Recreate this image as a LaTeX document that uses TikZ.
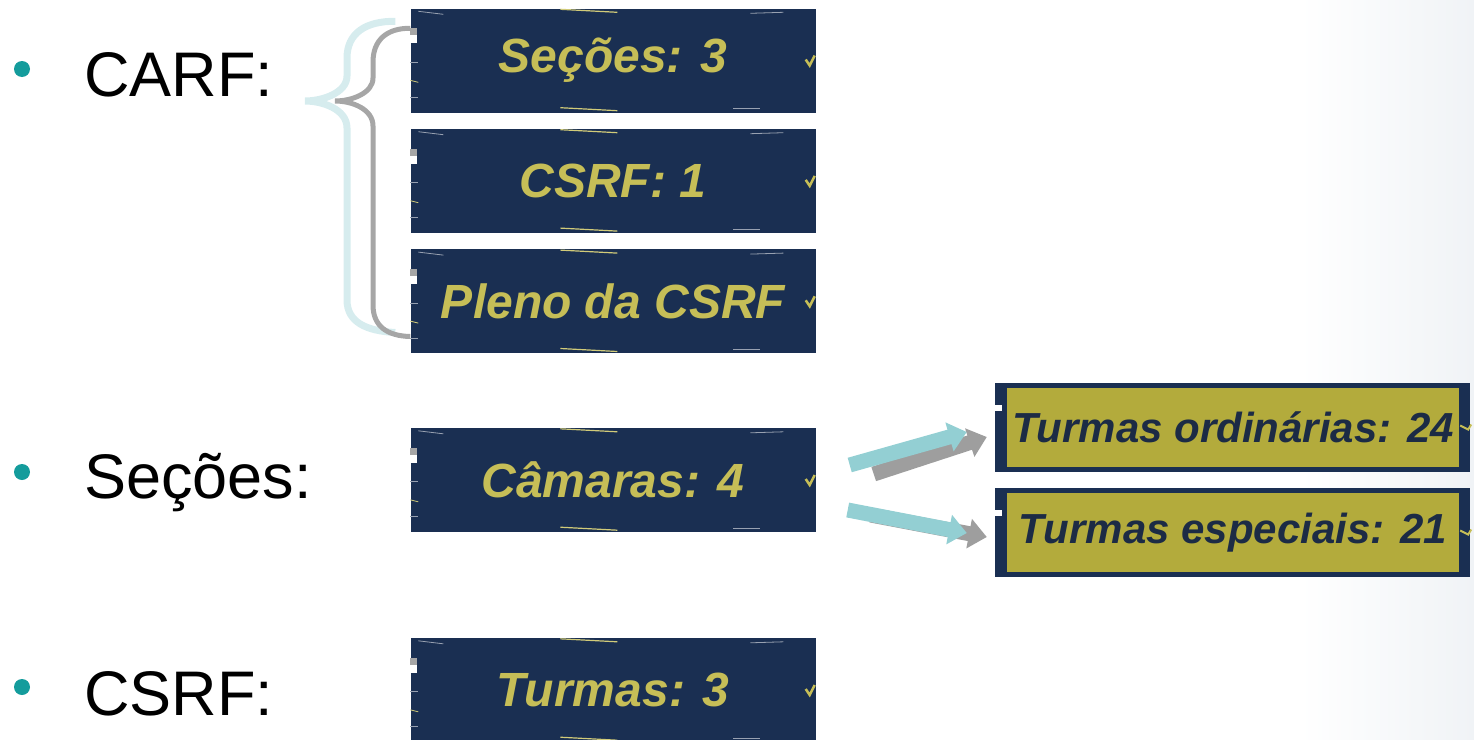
\documentclass[tikz,border=0pt]{standalone}
\usepackage{fontspec}
\setmainfont{Liberation Sans}
\usepackage{tikz}
\usetikzlibrary{arrows.meta, backgrounds, positioning}
\usepackage{xcolor}
\definecolor{boxnavy}{HTML}{1A2F52}
\definecolor{boxgold}{HTML}{C6BE57}
\definecolor{boxolive}{HTML}{B3AB3C}
\definecolor{olivetext}{HTML}{1C2B45}
\definecolor{dotteal}{HTML}{149C9C}
\definecolor{bracecyan}{HTML}{D6ECEE}
\definecolor{bracegray}{HTML}{A6A6A6}
\definecolor{arrowcyan}{HTML}{93CFD3}
\definecolor{arrowgray}{HTML}{9E9E9E}
\definecolor{pagetint}{HTML}{F0F3F6}

\begin{document}
\begin{tikzpicture}[x=1pt, y=-1pt,
        navybox/.style={fill=boxnavy, text=boxgold, minimum width=405pt, minimum height=104pt,
            inner sep=0pt, font=\fontsize{48}{50}\selectfont\bfseries\itshape},
        olivebox/.style={fill=boxolive, text=olivetext, minimum width=452pt, minimum height=79pt,
            inner sep=0pt, font=\fontsize{42}{44}\selectfont\bfseries\itshape},
        itemlabel/.style={anchor=base west, inner sep=0pt, font=\fontsize{63}{66}\selectfont},
        itemdot/.style={circle, fill=dotteal, minimum size=16pt, inner sep=0pt},
        blockarrow/.style={line width=15pt, -{Triangle[length=18pt, width=29pt]}}]
        \useasboundingbox (0,0) rectangle (1474,739);
        \begin{scope}[on background layer]
            \shade[left color=white, right color=pagetint] (1300,0) rectangle (1474,739);
        \end{scope}

        % bullets
        \node[itemdot] (dot1) at (22,69) {};
        \node[itemdot] (dot2) at (22,472) {};
        \node[itemdot] (dot3) at (22,687) {};
        \node[itemlabel] (carf) at (84,96) {CARF:};
        \node[itemlabel] (secoes) at (84,498) {Seções:};
        \node[itemlabel] (csrflbl) at (84,715) {CSRF:};

        % navy boxes
        \node[navybox] (sec) at (613,60.5) {Seções: 3};
        \node[navybox, below=16pt of sec] (csrf) {CSRF: 1};
        \node[navybox, below=16pt of csrf] (pleno) {Pleno da CSRF};
        \node[navybox] (cam) at (613,480) {Câmaras: 4};
        \node[navybox] (tur) at (613,690) {Turmas: 3};
        \foreach \b in {sec,csrf,pleno,cam,tur} {
            \fill[gray!70] ([shift={(0,20)}]\b.north west) rectangle ++(7,7);
            \fill[white] ([shift={(0,27)}]\b.north west) rectangle ++(7,8);
            \draw[white!55!boxnavy, line width=0.8pt] ([shift={(8,3)}]\b.north west) -- ++(25,3);
            \draw[boxgold!80, line width=1.2pt] ([shift={(150,1)}]\b.north west) -- ++(57,3);
            \draw[white!55!boxnavy, line width=0.8pt] ([shift={(340,5)}]\b.north west) -- ++(33,-1);
            \draw[boxgold!80, line width=1.2pt] ([shift={(150,-5)}]\b.south west) -- ++(57,3);
            \draw[white!55!boxnavy, line width=0.8pt] ([shift={(323,-4)}]\b.south west) -- ++(27,0);
            \draw[white!55!boxnavy, line width=0.8pt] ([shift={(0,54)}]\b.north west) -- ++(8,0);
            \draw[boxgold!80, line width=0.8pt] ([shift={(0,72)}]\b.north west) -- ++(8,2);
            \draw[white!55!boxnavy, line width=0.8pt] ([shift={(0,89)}]\b.north west) -- ++(8,0);
            \draw[boxgold, line width=2.5pt] ([shift={(-10,-1)}]\b.east) -- ++(4,6) -- ++(5,-10);
        }

        % olive boxes
        \node[olivebox] (ord) at (1233,427.5) {Turmas ordinárias: 24};
        \node[olivebox] (esp) at (1233,532.5) {Turmas especiais: 21};
        \begin{scope}[on background layer]
            \foreach \b in {ord,esp} {
                \fill[boxnavy] ([shift={(-12,-5)}]\b.north west) rectangle ([shift={(11,5)}]\b.south east);
            }
        \end{scope}
        \foreach \b in {ord,esp} {
            \fill[white] ([shift={(-12,17)}]\b.north west) rectangle ++(7,6);
            \draw[boxgold, line width=2pt] ([shift={(1,-2)}]\b.east) -- ++(8,4) -- ++(3,-5);
        }

        % brace
        \coordinate (gtop) at ([shift={(0,20)}]sec.north west);
        \coordinate (gbot) at ([shift={(0,-17)}]pleno.south west);
        \coordinate (ctop) at ([shift={(-15,13)}]sec.north west);
        \coordinate (cbot) at ([shift={(-15,-21)}]pleno.south west);
        \draw[bracecyan, line width=7pt] (ctop) .. controls (366,21) and (347,33) .. (347,58)
            -- (347,76) .. controls (347,93) and (322,101) .. (305,101)
            .. controls (322,101) and (347,109) .. (347,128) -- (347,300)
            .. controls (347,322) and (366,331) .. (cbot);
        \draw[bracegray, line width=5pt] (gtop) .. controls (387,28) and (373,40) .. (373,62)
            -- (373,78) .. controls (373,93) and (352,101) .. (335,101)
            .. controls (352,101) and (373,109) .. (373,126) -- (373,305)
            .. controls (373,326) and (387,336) .. (gbot);

        % arrows
        \coordinate (g1a) at ([shift={(58,-6)}]cam.east);
        \coordinate (g1b) at ([shift={(-20,9.5)}]ord.west);
        \coordinate (c1a) at ([shift={(34,-15)}]cam.east);
        \coordinate (c1b) at ([shift={(-40,4.5)}]ord.west);
        \coordinate (g2a) at ([shift={(55,35)}]cam.east);
        \coordinate (g2b) at ([shift={(-20,4.5)}]esp.west);
        \coordinate (c2a) at ([shift={(32,30)}]cam.east);
        \coordinate (c2b) at ([shift={(-40,0.5)}]esp.west);
        \draw[blockarrow, arrowgray] (g1a) -- (g1b);
        \draw[blockarrow, arrowcyan] (c1a) -- (c1b);
        \draw[blockarrow, arrowgray] (g2a) -- (g2b);
        \draw[blockarrow, arrowcyan] (c2a) -- (c2b);
    \end{tikzpicture}
\end{document}
